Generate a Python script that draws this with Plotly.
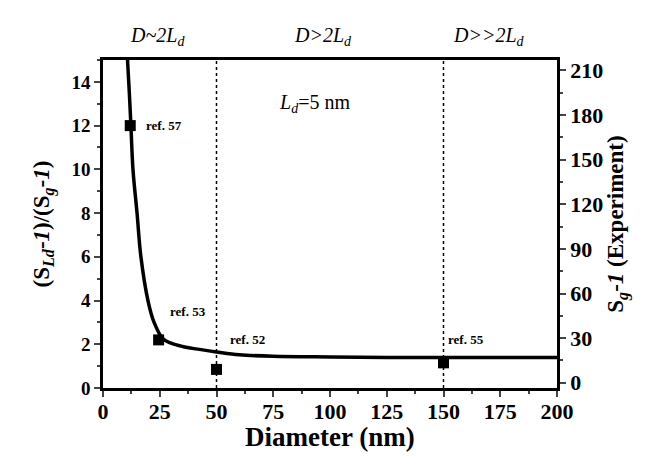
import plotly.graph_objects as go

# theory curve
curve_d = [10.8, 11.6, 12.3, 13.2, 15.0, 16.7, 19.8, 22.5, 26.4, 30, 35, 40, 50, 60, 75, 100, 125, 150, 175, 200]
curve_r = [15.0, 13.5, 12.0, 10.0, 8.0, 6.0, 4.0, 3.0, 2.25, 2.05, 1.9, 1.8, 1.65, 1.52, 1.45, 1.42, 1.4, 1.4, 1.4, 1.4]

# experimental points
exp_d = [12, 24.5, 50, 150]
exp_r = [12.0, 2.2, 0.85, 1.15]
exp_lbl = ["ref. 57", "ref. 53", "ref. 52", "ref. 55"]
lbl_dx = [6, 4, 5, 1]
lbl_r = [12.0, 3.5, 2.2, 2.2]

vlines = [50, 150]
regions_x = [24, 97, 170]
regions_txt = ["<i>D~2L<sub>d</sub></i>", "<i>D>2L<sub>d</sub></i>", "<i>D>>2L<sub>d</sub></i>"]

left_ticks = [0, 2, 4, 6, 8, 10, 12, 14]
right_ticks = [0, 30, 60, 90, 120, 150, 180, 210]
x_ticks = [0, 25, 50, 75, 100, 125, 150, 175, 200]

SERIF = "Liberation Serif"

fig = go.Figure()
for v in vlines:
    fig.add_trace(go.Scatter(x=[v, v], y=[0, 15], mode="lines",
                             line=dict(color="black", width=1.5, dash="dot"),
                             showlegend=False, hoverinfo="skip"))
fig.add_trace(go.Scatter(x=curve_d, y=curve_r, mode="lines",
                         line=dict(color="black", width=3.5, shape="spline"),
                         showlegend=False))
fig.add_trace(go.Scatter(x=exp_d, y=exp_r, mode="markers",
                         marker=dict(symbol="square", size=11, color="black"),
                         showlegend=False))
# placeholder trace to activate right axis
fig.add_trace(go.Scatter(x=[None], y=[None], yaxis="y2", showlegend=False, hoverinfo="skip"))

for d, dx, r, t in zip(exp_d, lbl_dx, lbl_r, exp_lbl):
    fig.add_annotation(x=d + dx, y=r, text=t, showarrow=False, xanchor="left",
                       font=dict(family=SERIF, size=13, color="black", weight="bold"))

for x, t in zip(regions_x, regions_txt):
    fig.add_annotation(x=x, y=1.115, xref="x", yref="paper", text=t, showarrow=False,
                       font=dict(family=SERIF, size=20, color="black"))

fig.add_annotation(x=93, y=13.0, text="<i>L<sub>d</sub></i>=5 nm", showarrow=False,
                   font=dict(family=SERIF, size=20, color="black"))

# x-axis title as annotation for precise placement
fig.add_annotation(x=0.5, y=-0.148, xref="paper", yref="paper", text="Diameter (nm)",
                   showarrow=False, yanchor="middle",
                   font=dict(family=SERIF, size=27, color="black", weight="bold"))

fig.update_layout(
    width=651, height=458,
    margin=dict(l=103, r=94, t=60, b=70),
    paper_bgcolor="white", plot_bgcolor="white",
    xaxis=dict(range=[0, 200], tickvals=x_ticks, ticks="outside", ticklen=6, tickwidth=2,
               ticklabelstandoff=-4, automargin=False,
               minor=dict(dtick=12.5, ticks="outside", ticklen=3, tickwidth=1.5, tick0=0),
               showline=True, linewidth=2.5, linecolor="black", mirror=True,
               showgrid=False, zeroline=False,
               tickfont=dict(family=SERIF, size=22, color="black", weight="bold")),
    yaxis=dict(range=[0, 15], tickvals=left_ticks, ticks="outside", ticklen=6, tickwidth=2,
               automargin=False,
               minor=dict(dtick=1, ticks="outside", ticklen=3, tickwidth=1.5, tick0=0),
               showline=True, linewidth=2.5, linecolor="black",
               showgrid=False, zeroline=False,
               tickfont=dict(family=SERIF, size=19, color="black", weight="bold"),
               title=dict(text="(S<sub><i>Ld</i></sub>-<i>1</i>)/(S<sub><i>g</i></sub>-<i>1</i>)", standoff=16,
                          font=dict(family=SERIF, size=23, color="black", weight="bold"))),
    yaxis2=dict(range=[-3.5, 217], tickvals=right_ticks, overlaying="y", side="right",
                ticks="outside", ticklen=6, tickwidth=2, automargin=False,
                minor=dict(dtick=15, ticks="outside", ticklen=3, tickwidth=1.5, tick0=0),
                showline=True, linewidth=2.5, linecolor="black",
                showgrid=False, zeroline=False,
                tickfont=dict(family=SERIF, size=22, color="black", weight="bold"),
                title=dict(text="S<sub><i>g</i></sub>-<i>1</i> (Experiment)", standoff=0,
                           font=dict(family=SERIF, size=23, color="black", weight="bold"))),
)

fig.write_html("out.html", config={"displayModeBar": False},
               post_script="document.body.style.margin='0px';")
